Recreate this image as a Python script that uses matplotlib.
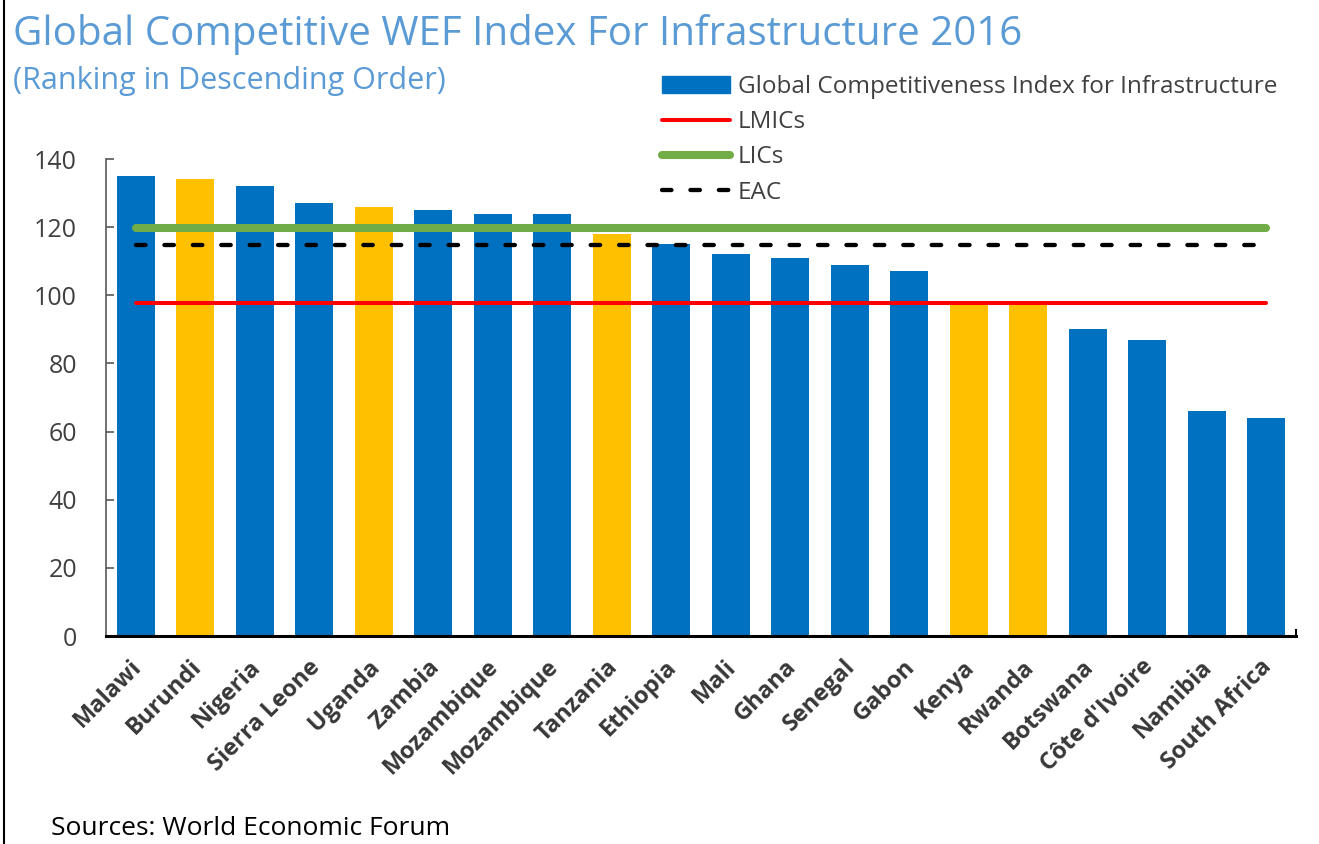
import matplotlib
matplotlib.use('Agg')
import matplotlib.pyplot as plt
import matplotlib.transforms as mtransforms
from matplotlib.lines import Line2D
from matplotlib.patches import Patch
from matplotlib.ticker import FixedLocator

plt.rcParams['font.family'] = ['Open Sans', 'DejaVu Sans']

# データ
countries = ['Malawi', 'Burundi', 'Nigeria', 'Sierra Leone', 'Uganda', 'Zambia',
             'Mozambique', 'Mozambique', 'Tanzania', 'Ethiopia', 'Mali', 'Ghana',
             'Senegal', 'Gabon', 'Kenya', 'Rwanda', 'Botswana', "Côte d'Ivoire",
             'Namibia', 'South Africa']
ranks = [135, 134, 132, 127, 126, 125, 124, 124, 118, 115, 112, 111, 109, 107,
         98, 98, 90, 87, 66, 64]
eac_members = ['Burundi', 'Uganda', 'Tanzania', 'Kenya', 'Rwanda']
lmics = 97.8
lics = 119.7
eac = 114.8
yticks = [0, 20, 40, 60, 80, 100, 120, 140]

blue = '#0070C0'
gold = '#FFC000'
colors = [gold if c in eac_members else blue for c in countries]
x = list(range(len(countries)))

fig = plt.figure(figsize=(13.19, 8.44), dpi=100)
ax = fig.add_axes([0.0804, 0.2464, 0.902, 0.5652])

ax.bar(x, ranks, width=0.64, color=colors, zorder=2)
ax.plot([x[0], x[-1]], [lics, lics], color='#70AD47', lw=5.8, solid_capstyle='round', zorder=3)
ax.plot([x[0], x[-1]], [eac, eac], color='black', lw=3.1, dashes=(2.2, 4.4),
        dash_capstyle='round', zorder=3)
ax.plot([x[0], x[-1]], [lmics, lmics], color='#FF0000', lw=2.9, solid_capstyle='round', zorder=3)

ax.set_xlim(-0.5, 19.5)
ax.set_ylim(0, 140)
ax.set_yticks(yticks)
ax.set_xticks(x)
ax.set_xticklabels(countries, rotation=45, ha='right', rotation_mode='anchor',
                   fontsize=17, fontweight='bold', color='#383838')
ax.xaxis.set_minor_locator(FixedLocator([19.5]))
ax.tick_params(axis='x', which='both', direction='in', length=5, width=1.5, color='black', pad=10)
ax.tick_params(axis='y', direction='in', length=6, width=1.2, color='#595959',
               labelsize=18, labelcolor='#404040', pad=21)
# ラベルを少し左下へずらす（tick_paramsの後で）
shift = mtransforms.ScaledTranslation(-0.06, -0.05, fig.dpi_scale_trans)
for lab in ax.get_xticklabels():
    lab.set_transform(lab.get_transform() + shift)

ax.spines['top'].set_visible(False)
ax.spines['right'].set_visible(False)
ax.spines['left'].set_color('#595959')
ax.spines['left'].set_linewidth(1.2)
ax.spines['bottom'].set_linewidth(2.2)

handles = [Patch(color=blue),
           Line2D([], [], color='#FF0000', lw=2.9, solid_capstyle='round'),
           Line2D([], [], color='#70AD47', lw=5.8, solid_capstyle='round'),
           Line2D([], [], color='black', lw=3.1, dashes=(2.2, 4.4), dash_capstyle='round')]
labels = ['Global Competitiveness Index for Infrastructure', 'LMICs', 'LICs', 'EAC']
leg = fig.legend(handles, labels, loc='upper left', bbox_to_anchor=(0.4925, 0.926),
                 frameon=False, fontsize=17.5, handlelength=2.8, handleheight=0.7,
                 handletextpad=0.33, labelspacing=0.47, borderpad=0)
for t in leg.get_texts():
    t.set_color('#404040')

fig.text(0.010, 0.9467, 'Global Competitive WEF Index For Infrastructure 2016',
         fontsize=29, color='#5B9BD5', va='baseline')
fig.text(0.010, 0.895, '(Ranking in Descending Order)',
         fontsize=22, color='#5B9BD5', va='baseline')
fig.text(0.039, 0.0107, 'Sources: World Economic Forum', fontsize=19, color='black', va='baseline')

fig.add_artist(Line2D([0.003, 0.003], [0, 1], transform=fig.transFigure, color='black', lw=1.5))

fig.savefig('out.png', dpi=100)
